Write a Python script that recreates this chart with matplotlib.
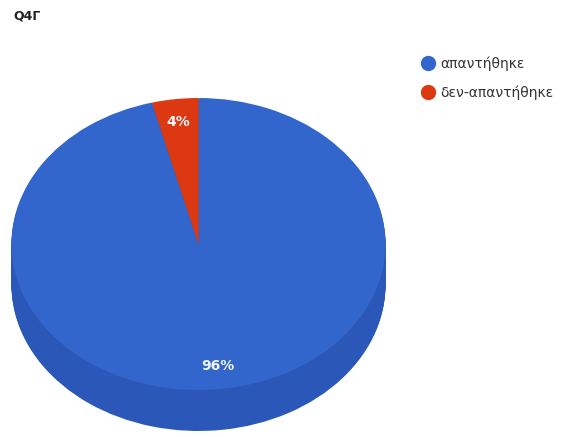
import matplotlib.pyplot as plt
from matplotlib.lines import Line2D
from matplotlib.transforms import Affine2D
import numpy as np

TITLE = "Q4Γ"
labels = ["απαντήθηκε", "δεν-απαντήθηκε"]
values = [96, 4]
top_colors = ["#3366cc", "#dc3912"]
side_colors = ["#2b58b8", "#b52e0e"]

W, H = 568, 437
CX, CY = 198.5, 193      # pie centre (pixels, y up)
RX, RY = 187, 146        # ellipse semi-axes of the top face
DEPTH = 41               # thickness of the extruded side

fig = plt.figure(figsize=(W / 100, H / 100), dpi=100)
ax = fig.add_axes([0, 0, 1, 1])


def squash(dy=0.0):
    return Affine2D().scale(RX, RY).translate(CX, CY - dy) + ax.transData


# side of the disc: stack darker copies downward
for d in np.linspace(DEPTH, 1, 41):
    wedges, _ = ax.pie(values, colors=side_colors, startangle=90,
                       counterclock=False, wedgeprops=dict(linewidth=0))
    for w in wedges:
        w.set_transform(squash(d))

# top face
wedges, _, autotexts = ax.pie(values, colors=top_colors, startangle=90,
                              counterclock=False, autopct="%1.0f%%",
                              pctdistance=0.845, wedgeprops=dict(linewidth=0),
                              textprops=dict(color="#f2f5fb", fontsize=10,
                                             fontweight="semibold"))
for w in wedges:
    w.set_transform(squash())
for t in autotexts:
    t.set_transform(squash())

ax.set_xlim(0, W)
ax.set_ylim(0, H)
ax.set_aspect("auto")
ax.axis("off")

fig.text(13 / W, 1 - 16 / H, TITLE, fontsize=9, fontweight="bold",
         color="#222222", va="center", ha="left")

handles = [Line2D([], [], marker="o", linestyle="none", markersize=10,
                  markerfacecolor=c, markeredgecolor=c) for c in top_colors]
fig.legend(handles, labels, loc="upper left", bbox_to_anchor=(407 / W, 1 - 44 / H),
           frameon=False, fontsize=10, handletextpad=0.3, labelspacing=1.05,
           handlelength=1.2, labelcolor="#333333")

fig.savefig("out.png", dpi=100)
